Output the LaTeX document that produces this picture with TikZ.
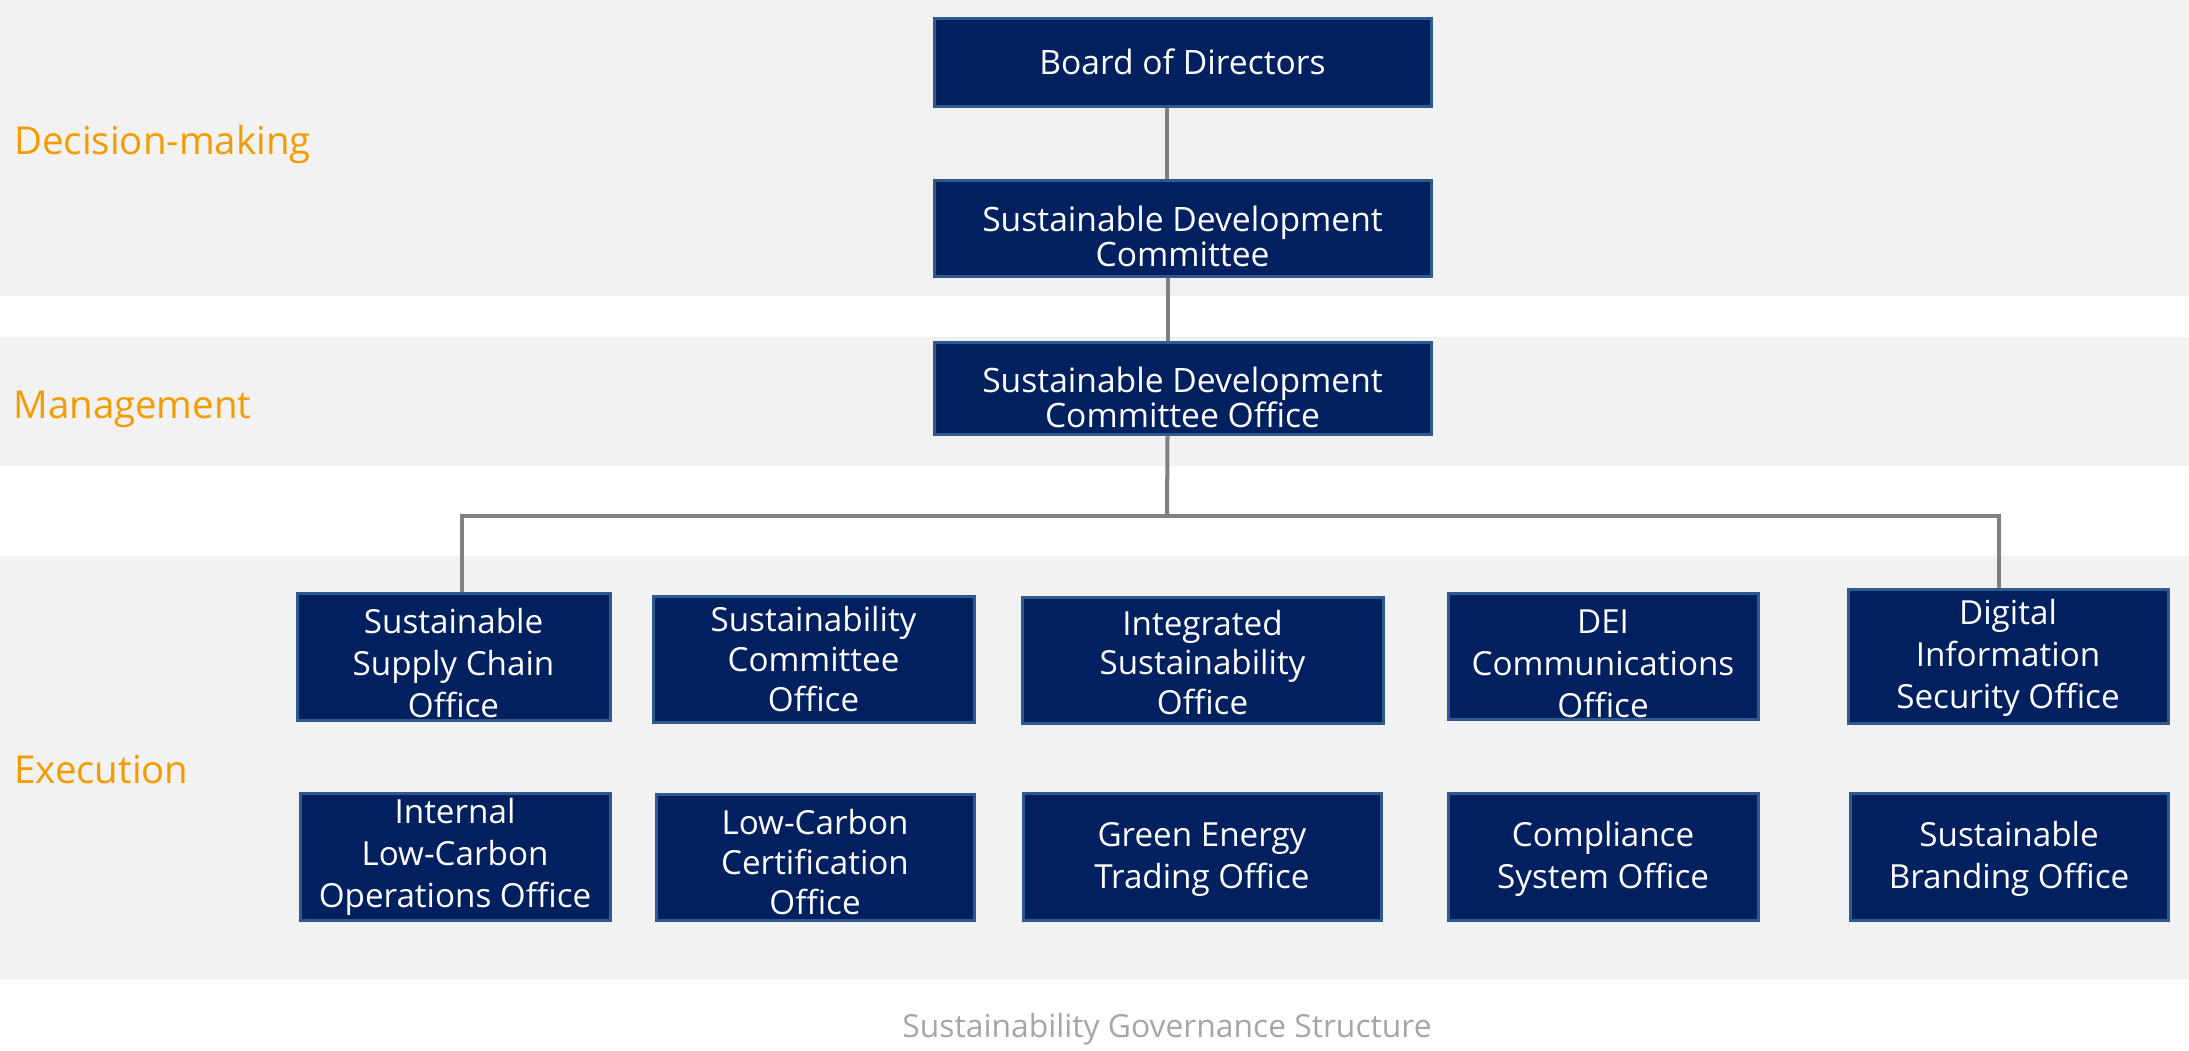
\documentclass[tikz,border=0pt]{standalone}
\usepackage{fontspec}
\setmainfont{Open Sans}
\usetikzlibrary{calc}
\definecolor{band}{HTML}{F2F2F2}
\definecolor{navy}{HTML}{002060}
\definecolor{edge}{HTML}{2F5A8F}
\definecolor{lvl}{HTML}{F39C00}
\definecolor{capgray}{HTML}{A6A6A6}
\definecolor{conngray}{HTML}{808080}
\newcommand{\dn}[1]{\rule{0pt}{#1}}
\tikzset{
  box/.style={draw=edge, line width=1.5pt, fill=navy, text=white, align=center,
    inner sep=0pt, font=\fontsize{16.8}{17.5}\selectfont},
  rowbox/.style={box, font=\fontsize{16.6}{21}\selectfont},
  tightbox/.style={box, font=\fontsize{16.6}{19.8}\selectfont},
  lvltext/.style={anchor=west, text=lvl, inner sep=0pt, font=\fontsize{19.2}{23}\selectfont},
  conn/.style={draw=conngray, line width=2pt, line join=miter},
}
\begin{document}
\begin{tikzpicture}[x=0.5pt, y=-0.5pt]
\useasboundingbox (0,0) rectangle (2189,1050);
% bands
\fill[band] (0,0) rectangle (2189,296);
\fill[band] (0,337) rectangle (2189,466);
\fill[band] (0,556) rectangle (2189,979);
% level labels
\node[lvltext] (lvlA) at (14,145) {Decision-making};
\node[lvltext] (lvlB) at (13,409) {Management};
\node[lvltext] (lvlC) at (14,770) {Execution};
% top chain
\node[box, minimum width=248.5pt, minimum height=44pt] (board) at (1182.5,62) {Board of Directors};
\node[box, minimum width=248.5pt, minimum height=48pt] (sdc) at (1182.5,228) {\dn{21pt}Sustainable Development\\Committee};
\node[box, minimum width=248.5pt, minimum height=46pt] (sdco) at (1182.5,388) {\dn{22.6pt}Sustainable Development\\Committee Office};
% row 1
\node[rowbox, minimum width=156.5pt, minimum height=63.5pt] (ssc) at (453.5,656.5) {\dn{19.6pt}Sustainable\\Supply Chain\\Office};
\node[tightbox, minimum width=160.5pt, minimum height=63pt] (sco) at (813.5,659) {Sustainability\\Committee\\Office};
\node[tightbox, minimum width=180.5pt, minimum height=63pt] (iso) at (1202.5,660) {\dn{15pt}Integrated\\Sustainability\\Office};
\node[rowbox, minimum width=155pt, minimum height=63pt] (dei) at (1603,656) {\dn{19.9pt}DEI\\Communications\\Office};
\node[rowbox, minimum width=160pt, minimum height=67pt] (diso) at (2008,656) {\dn{14.6pt}Digital\\Information\\Security Office};
% row 2
\node[rowbox, minimum width=155pt, minimum height=63.5pt] (ilco) at (455,856.5) {Internal\\Low-Carbon\\Operations Office};
\node[tightbox, minimum width=159pt, minimum height=63pt] (lcco) at (815,857) {\dn{17.6pt}Low-Carbon\\Certification\\Office};
\node[rowbox, minimum width=179pt, minimum height=63.5pt] (geto) at (1202,856.5) {\dn{14.6pt}Green Energy\\Trading Office};
\node[rowbox, minimum width=155pt, minimum height=63.5pt] (cso) at (1603,856.5) {\dn{14.6pt}Compliance\\System Office};
\node[rowbox, minimum width=159pt, minimum height=63.5pt] (sbo) at (2009,856.5) {\dn{14.6pt}Sustainable\\Branding Office};
% connectors
\coordinate (bus) at (1167,516);
\draw[conn] ($(board.south)+(-16,0)$) -- ($(sdc.north)+(-16,0)$);
\draw[conn] ($(sdc.south)+(-15,0)$) -- ($(sdco.north)+(-15,0)$);
\draw[conn] ($(sdco.south)+(-15,0)$) -- (bus);
\draw[conn] ($(ssc.north)+(8.5,0)$) |- (bus) -| ($(diso.north)+(-9,0)$);
% caption
\node[text=capgray, inner sep=0pt, font=\fontsize{15.9}{19}\selectfont] (cap) at (1167,1029) {Sustainability Governance Structure};
\end{tikzpicture}
\end{document}
